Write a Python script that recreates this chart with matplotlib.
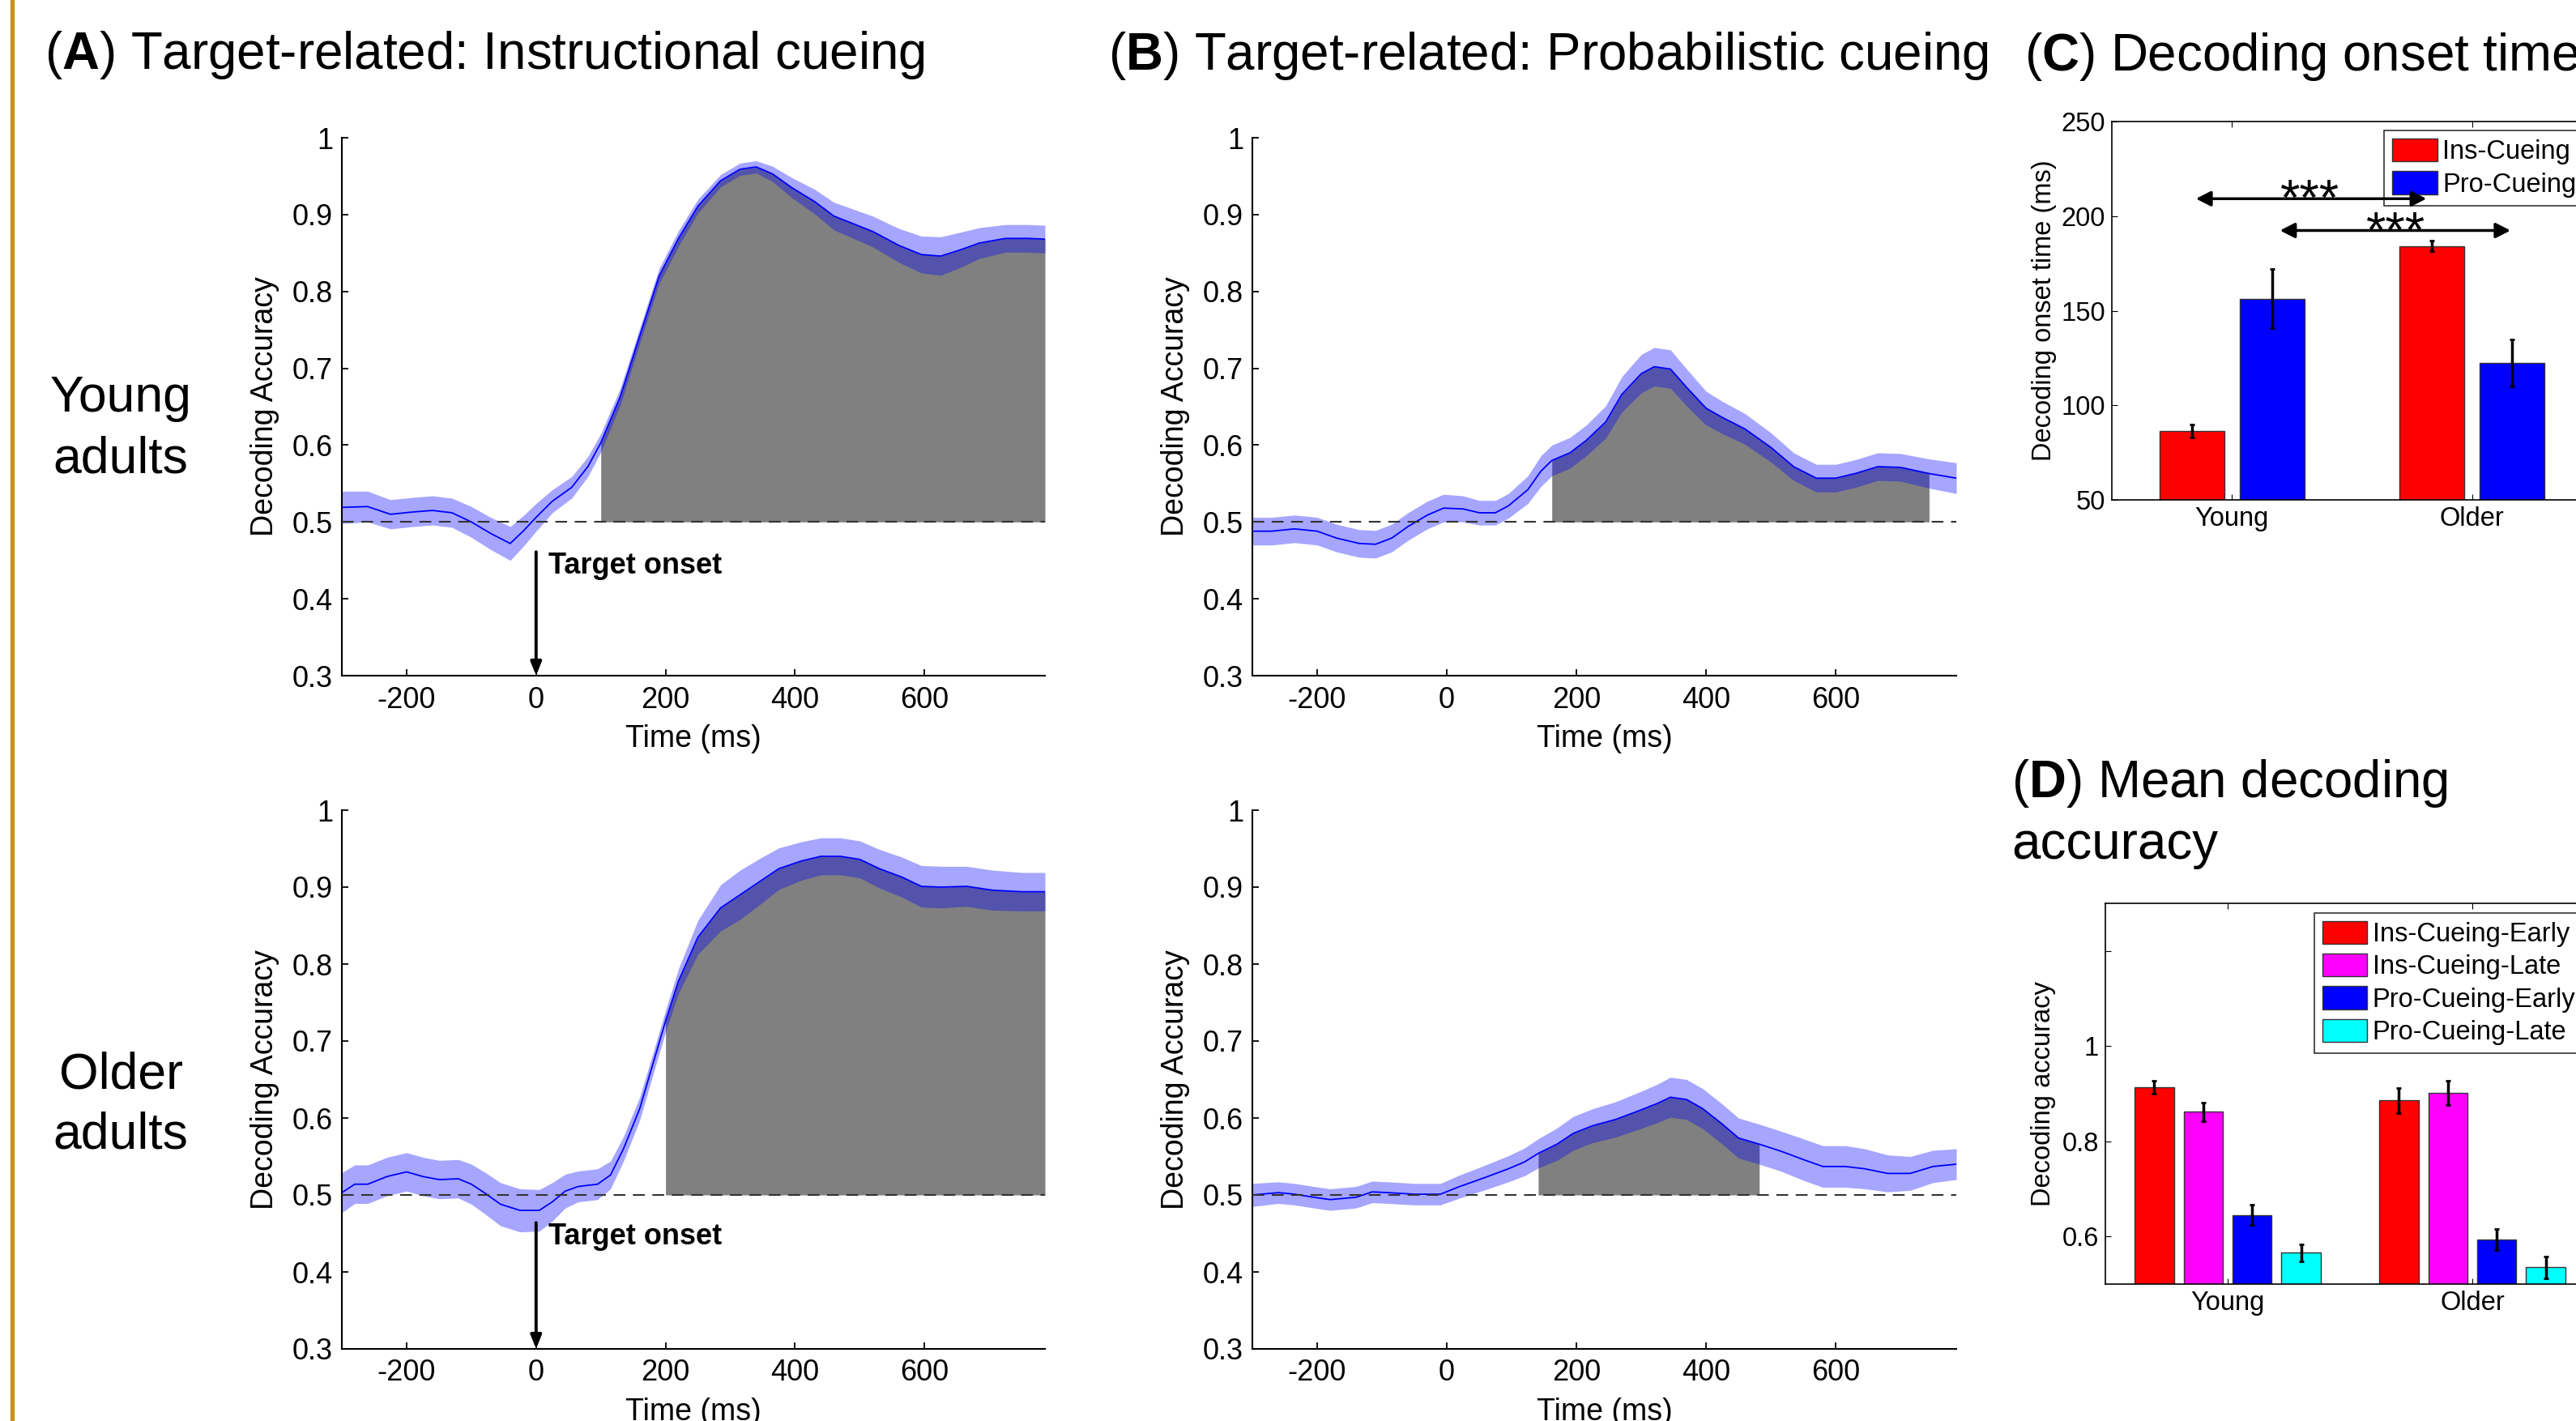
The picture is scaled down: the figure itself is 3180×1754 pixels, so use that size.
import numpy as np
import matplotlib
matplotlib.use('Agg')
import matplotlib.pyplot as plt
from matplotlib.lines import Line2D

plt.rcParams['font.family'] = ['Liberation Sans', 'DejaVu Sans']
plt.rcParams['mathtext.fontset'] = 'custom'
plt.rcParams['mathtext.rm'] = 'Liberation Sans'
plt.rcParams['mathtext.bf'] = 'Liberation Sans:bold'
plt.rcParams['axes.unicode_minus'] = False

# ---------------- time course data (ms, mean accuracy, s.e.) ----------------
# (A) instructional cueing, young adults
tA_y = [-300, -260, -225, -190, -160, -130, -100, -70, -40, -20, 0, 25, 55, 80, 100, 130, 160, 190,
        220, 250, 285, 315, 340, 365, 395, 430, 460, 490, 520, 560, 595, 625, 655, 685, 725, 760, 786]
mA_y = [0.519, 0.520, 0.510, 0.513, 0.515, 0.512, 0.500, 0.485, 0.472, 0.488, 0.506, 0.527, 0.545,
        0.572, 0.603, 0.663, 0.742, 0.820, 0.869, 0.911, 0.944, 0.959, 0.962, 0.953, 0.935, 0.917,
        0.898, 0.888, 0.878, 0.860, 0.848, 0.846, 0.854, 0.863, 0.869, 0.869, 0.868]
sA_y = [0.021, 0.020, 0.019, 0.019, 0.019, 0.019, 0.020, 0.021, 0.022, 0.020, 0.018, 0.015, 0.014,
        0.013, 0.012, 0.011, 0.010, 0.010, 0.010, 0.009, 0.008, 0.008, 0.008, 0.010, 0.013, 0.016,
        0.018, 0.019, 0.020, 0.022, 0.024, 0.025, 0.023, 0.020, 0.018, 0.018, 0.018]
sigA_y = (100, 786)

# (A) instructional cueing, older adults
tA_o = [-300, -280, -260, -230, -200, -175, -150, -120, -100, -80, -55, -25, 5, 25, 45, 65, 95, 115,
        135, 160, 180, 200, 220, 250, 285, 315, 345, 375, 410, 440, 470, 500, 530, 565, 595, 625,
        665, 705, 750, 786]
mA_o = [0.503, 0.514, 0.514, 0.524, 0.530, 0.524, 0.520, 0.521, 0.514, 0.503, 0.488, 0.480, 0.480,
        0.491, 0.505, 0.511, 0.514, 0.526, 0.560, 0.612, 0.669, 0.726, 0.778, 0.835, 0.873, 0.890,
        0.907, 0.924, 0.934, 0.940, 0.940, 0.936, 0.924, 0.913, 0.901, 0.900, 0.901, 0.896, 0.894,
        0.894]
sA_o = [0.026, 0.025, 0.025, 0.025, 0.025, 0.025, 0.025, 0.025, 0.026, 0.027, 0.028, 0.028, 0.027,
        0.025, 0.022, 0.020, 0.020, 0.018, 0.016, 0.015, 0.014, 0.014, 0.016, 0.022, 0.030, 0.032,
        0.030, 0.027, 0.025, 0.024, 0.024, 0.024, 0.025, 0.026, 0.027, 0.027, 0.026, 0.026, 0.025,
        0.025]
sigA_o = (200, 786)

# (B) probabilistic cueing, young adults
tB_y = [-300, -270, -235, -200, -170, -135, -110, -85, -60, -30, -5, 25, 50, 75, 95, 125, 145, 162,
        190, 215, 245, 270, 300, 320, 345, 370, 400, 425, 460, 500, 535, 570, 600, 630, 665, 700,
        744, 786]
mB_y = [0.488, 0.488, 0.491, 0.488, 0.479, 0.472, 0.471, 0.479, 0.494, 0.509, 0.518, 0.517, 0.512,
        0.512, 0.521, 0.542, 0.566, 0.580, 0.590, 0.606, 0.630, 0.666, 0.693, 0.702, 0.699, 0.675,
        0.648, 0.636, 0.621, 0.597, 0.572, 0.557, 0.557, 0.563, 0.572, 0.571, 0.563, 0.557]
sB_y = [0.018, 0.018, 0.018, 0.018, 0.018, 0.018, 0.018, 0.018, 0.018, 0.018, 0.018, 0.017, 0.016,
        0.016, 0.016, 0.018, 0.020, 0.020, 0.020, 0.020, 0.021, 0.023, 0.025, 0.025, 0.025, 0.024,
        0.022, 0.021, 0.020, 0.019, 0.018, 0.018, 0.018, 0.018, 0.018, 0.018, 0.019, 0.020]
sigB_y = (162, 744)

# (B) probabilistic cueing, older adults
tB_o = [-300, -260, -235, -205, -180, -140, -115, -90, -50, -10, 20, 60, 95, 120, 141, 170, 195, 225,
        260, 295, 325, 345, 370, 395, 425, 450, 482, 515, 550, 580, 615, 645, 680, 715, 750, 786]
mB_o = [0.500, 0.503, 0.501, 0.497, 0.494, 0.497, 0.504, 0.503, 0.501, 0.501, 0.511, 0.523, 0.534,
        0.543, 0.554, 0.566, 0.580, 0.590, 0.598, 0.609, 0.619, 0.627, 0.624, 0.612, 0.592, 0.574,
        0.566, 0.557, 0.546, 0.537, 0.537, 0.534, 0.528, 0.528, 0.537, 0.540]
sB_o = [0.015, 0.014, 0.014, 0.014, 0.014, 0.014, 0.014, 0.014, 0.014, 0.014, 0.015, 0.016, 0.017,
        0.018, 0.019, 0.021, 0.022, 0.022, 0.023, 0.024, 0.025, 0.026, 0.026, 0.026, 0.026, 0.026,
        0.026, 0.026, 0.027, 0.027, 0.027, 0.026, 0.024, 0.022, 0.021, 0.020]
sigB_o = (141, 482)

# ---------------- bar data ----------------
groups = ['Young', 'Older']
onset_ins = [86.3, 184.2]
onset_ins_err = [3.5, 2.8]
onset_pro = [156.3, 122.5]
onset_pro_err = [15.7, 12.4]

acc_labels = ['Ins-Cueing-Early', 'Ins-Cueing-Late', 'Pro-Cueing-Early', 'Pro-Cueing-Late']
acc_vals = [[0.914, 0.886], [0.862, 0.902], [0.645, 0.594], [0.566, 0.535]]
acc_errs = [[0.0135, 0.026], [0.020, 0.0255], [0.021, 0.022], [0.018, 0.0225]]
acc_cols = ['#ff0000', '#ff00ff', '#0000ff', '#00ffff']

W, H = 3180, 1754
fig = plt.figure(figsize=(W / 100, H / 100), dpi=100)


def box(l, t, r, b):
    return [l / W, 1 - b / H, (r - l) / W, (b - t) / H]


def timecourse(rect, t, m, s, sig, arrow=None):
    ax = fig.add_axes(rect)
    t = np.array(t, float); m = np.array(m); s = np.array(s)
    k = (t >= sig[0]) & (t <= sig[1])
    ax.fill_between(t[k], 0.5, m[k], color=(0.5, 0.5, 0.5), lw=0, zorder=1)
    ax.fill_between(t, m - s, m + s, color='blue', alpha=0.35, lw=0, zorder=2)
    ax.plot(t, m, color='blue', lw=1.3, zorder=3)
    ax.axhline(0.5, color=(0.2, 0.2, 0.2), lw=1.5, dashes=(7, 4.5), zorder=4)
    ax.set_xlim(-300, 786)
    ax.set_ylim(0.3, 1.0)
    ax.set_xticks([-200, 0, 200, 400, 600])
    ax.set_yticks([0.3, 0.4, 0.5, 0.6, 0.7, 0.8, 0.9, 1.0])
    ax.set_yticklabels(['0.3', '0.4', '0.5', '0.6', '0.7', '0.8', '0.9', '1'])
    for sp in ['top', 'right']:
        ax.spines[sp].set_visible(False)
    for sp in ['left', 'bottom']:
        ax.spines[sp].set_linewidth(1.5)
    ax.tick_params(direction='in', length=6, width=1.3, labelsize=26, pad=8)
    ax.tick_params(axis='x', pad=9)
    ax.set_xlabel('Time (ms)', fontsize=27)
    ax.set_ylabel('Decoding Accuracy', fontsize=27)
    ax.yaxis.set_label_coords(-0.089, 0.5)
    ax.xaxis.set_label_coords(0.5, -0.090)
    if arrow is not None:
        ax.annotate('', xy=(0, 0.3), xytext=(0, arrow),
                    arrowprops=dict(arrowstyle='-|>,head_length=0.5,head_width=0.2',
                                    color='k', lw=2.8, shrinkA=0, shrinkB=0, mutation_scale=20))
        ax.text(19, arrow - 0.028, 'Target onset', fontsize=26, fontweight='bold', va='baseline')
    return ax


timecourse(box(422, 170, 1290, 834), tA_y, mA_y, sA_y, sigA_y, arrow=0.461)
timecourse(box(422, 1000, 1290, 1665), tA_o, mA_o, sA_o, sigA_o, arrow=0.464)
timecourse(box(1546, 170, 2415, 834), tB_y, mB_y, sB_y, sigB_y)
timecourse(box(1546, 1000, 2415, 1665), tB_o, mB_o, sB_o, sigB_o)

# ---------------- (C) decoding onset time ----------------
axC = fig.add_axes(box(2607, 150, 3200, 617))
x = np.array([1, 2])
axC.bar(x - 0.167, onset_ins, 0.27, color='#ff0000', edgecolor=(0.2, 0.2, 0.2), lw=1, label='Ins-Cueing', zorder=2)
axC.bar(x + 0.167, onset_pro, 0.27, color='#0000ff', edgecolor=(0.2, 0.2, 0.2), lw=1, label='Pro-Cueing', zorder=2)
axC.errorbar(x - 0.167, onset_ins, onset_ins_err, fmt='none', ecolor='k', elinewidth=2.5, capsize=2, capthick=2, zorder=3)
axC.errorbar(x + 0.167, onset_pro, onset_pro_err, fmt='none', ecolor='k', elinewidth=2.5, capsize=2, capthick=2, zorder=3)
axC.set_xlim(0.5, 2.5)
axC.set_ylim(50, 250)
axC.set_xticks(x)
axC.set_xticklabels(groups)
axC.set_yticks([50, 100, 150, 200, 250])
axC.tick_params(direction='in', top=True, right=True, length=5, labelsize=23.5, pad=6)
for sp in axC.spines.values():
    sp.set_linewidth(1.2)
axC.set_ylabel('Decoding onset time (ms)', fontsize=23.5)
axC.yaxis.set_label_coords(-0.115, 0.5)
leg = axC.legend(loc='upper left', bbox_to_anchor=(0.567, 0.976), fontsize=23.5, frameon=True,
                 fancybox=False, edgecolor='k', handlelength=1.7, handleheight=0.95,
                 handletextpad=0.2, borderpad=0.3, labelspacing=0.25, borderaxespad=0)
leg.get_frame().set_linewidth(1.2)
leg.set_zorder(5)
arr = dict(arrowstyle='<|-|>,head_length=0.55,head_width=0.28', color='k', lw=2.5,
           shrinkA=0, shrinkB=0, mutation_scale=20)
axC.annotate('', xy=(1.81, 209.2), xytext=(0.85, 209.2), arrowprops=arr, zorder=6)
axC.annotate('', xy=(2.16, 192.4), xytext=(1.20, 192.4), arrowprops=arr, zorder=6)
axC.text(1.324, 200.7, '***', fontsize=45, ha='center', va='baseline', zorder=6)
axC.text(1.682, 183.6, '***', fontsize=45, ha='center', va='baseline', zorder=6)

# ---------------- (D) mean decoding accuracy ----------------
axD = fig.add_axes(box(2599, 1115, 3203, 1585))
offs = [-0.3, -0.1, 0.1, 0.3]
for i in range(4):
    axD.bar(x + offs[i], acc_vals[i], 0.16, color=acc_cols[i], edgecolor=(0.2, 0.2, 0.2), lw=1,
            label=acc_labels[i], zorder=2)
    axD.errorbar(x + offs[i], acc_vals[i], acc_errs[i], fmt='none', ecolor='k', elinewidth=2.5,
                 capsize=2, capthick=2, zorder=3)
axD.set_xlim(0.5, 2.5)
axD.set_ylim(0.5, 1.3)
axD.set_xticks(x)
axD.set_xticklabels(groups)
axD.set_yticks([0.6, 0.8, 1.0, 1.2])
axD.set_yticklabels(['0.6', '0.8', '1', ''])
axD.tick_params(direction='in', top=True, right=True, length=5, labelsize=23.5, pad=6)
for sp in axD.spines.values():
    sp.set_linewidth(1.2)
axD.set_ylabel('Decoding accuracy', fontsize=23.5)
axD.yaxis.set_label_coords(-0.101, 0.5)
legD = axD.legend(loc='upper left', bbox_to_anchor=(0.427, 0.975), fontsize=23.5, frameon=True,
                  fancybox=False, edgecolor='k', handlelength=1.7, handleheight=0.95,
                  handletextpad=0.2, borderpad=0.3, labelspacing=0.25, borderaxespad=0)
legD.get_frame().set_linewidth(1.2)

# ---------------- titles and row labels ----------------
fig.text(55 / W, 1 - 85 / H, r'($\mathbf{A}$) Target-related: Instructional cueing', fontsize=45.8, va='baseline')
fig.text(1368 / W, 1 - 86 / H, r'($\mathbf{B}$) Target-related: Probabilistic cueing', fontsize=45.8, va='baseline')
fig.text(2499 / W, 1 - 87 / H, r'($\mathbf{C}$) Decoding onset time', fontsize=45.8, va='baseline')
fig.text(2483 / W, 1 - 984 / H, r'($\mathbf{D}$) Mean decoding', fontsize=45.8, va='baseline')
fig.text(2483 / W, 1 - 1060 / H, 'accuracy', fontsize=45.8, va='baseline')

fig.text(149 / W, 1 - 508 / H, 'Young', fontsize=45, ha='center', va='baseline')
fig.text(149 / W, 1 - 583 / H, 'adults', fontsize=45, ha='center', va='baseline')
fig.text(149 / W, 1 - 1344 / H, 'Older', fontsize=45, ha='center', va='baseline')
fig.text(149 / W, 1 - 1417 / H, 'adults', fontsize=45, ha='center', va='baseline')

# gold margin line
fig.add_artist(Line2D([14.8 / W, 14.8 / W], [0, 1], transform=fig.transFigure, color='#C4941C', lw=3.8))

fig.savefig('out.png', dpi=100)
